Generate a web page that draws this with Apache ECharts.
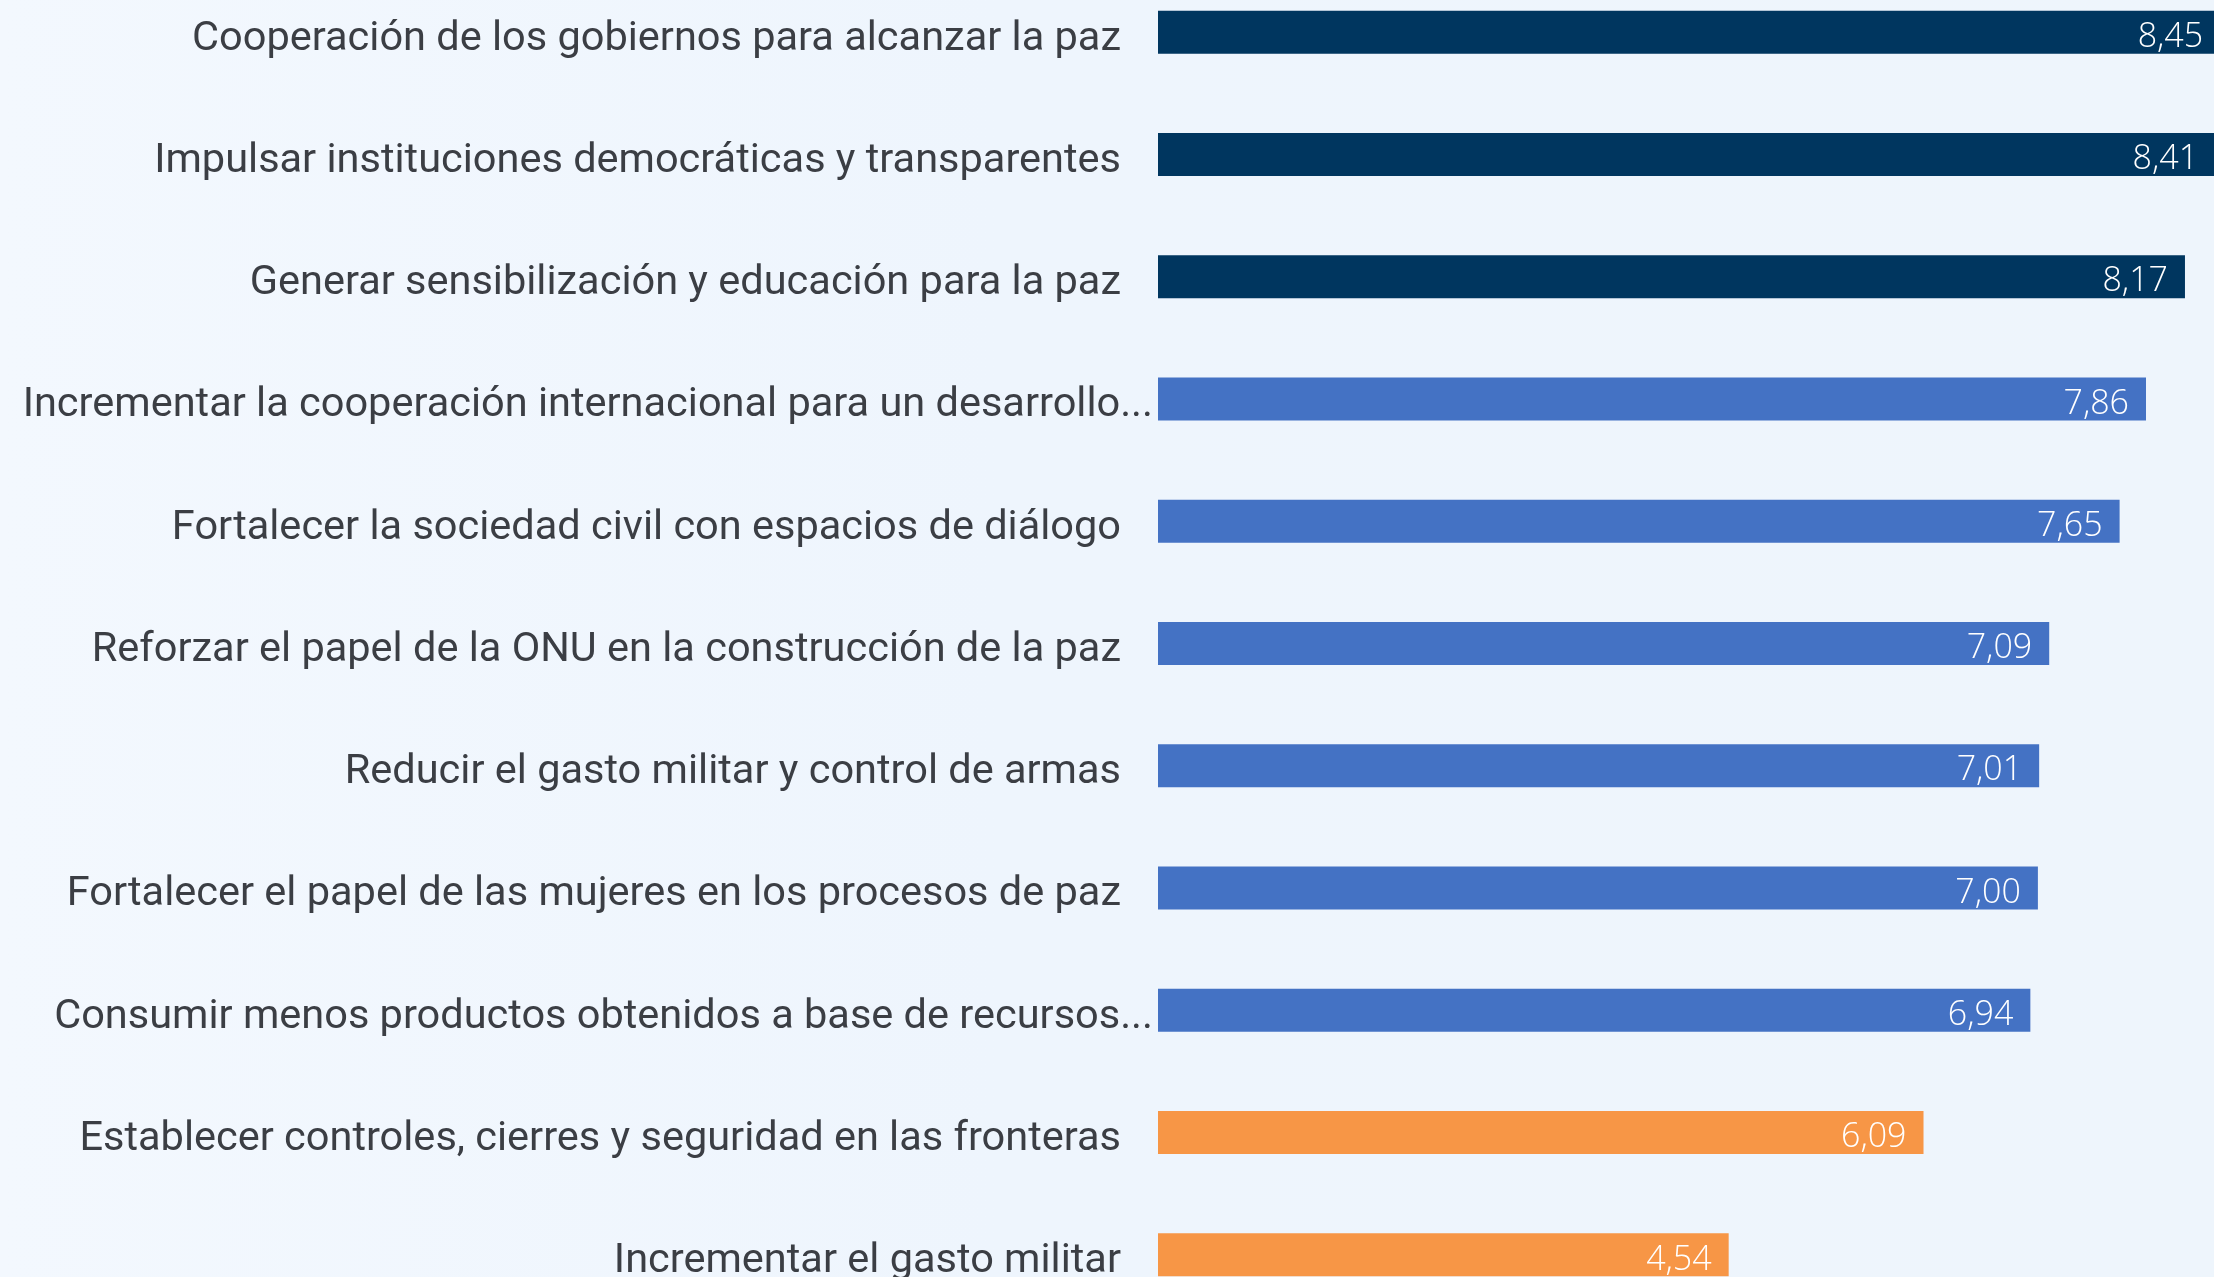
<!DOCTYPE html>
<html>
<head>
<meta charset="utf-8">
<script src="https://cdn.jsdelivr.net/npm/echarts@6/dist/echarts.min.js"></script>
<style>
  html, body { margin: 0; padding: 0; width: 2214px; height: 1277px; overflow: hidden;
    background: linear-gradient(90deg, #f3f8fe 0%, #eef5fd 45%, #eef5fc 100%); }
  #chart { position: absolute; left: 0; top: -29px; width: 2500px; height: 1345px; }
</style>
</head>
<body>
<div id="chart"></div>
<script>
// categorias (de arriba a abajo)
var categories = [
  'Cooperación de los gobiernos para alcanzar la paz',
  'Impulsar instituciones democráticas y transparentes',
  'Generar sensibilización y educación para la paz',
  'Incrementar la cooperación internacional para un desarrollo...',
  'Fortalecer la sociedad civil con espacios de diálogo',
  'Reforzar el papel de la ONU en la construcción de la paz',
  'Reducir el gasto militar y control de armas',
  'Fortalecer el papel de las mujeres en los procesos de paz',
  'Consumir menos productos obtenidos a base de recursos...',
  'Establecer controles, cierres y seguridad en las fronteras',
  'Incrementar el gasto militar'
];
var values = [8.45, 8.41, 8.17, 7.86, 7.65, 7.09, 7.01, 7.00, 6.94, 6.09, 4.54];
// grupo de color de cada barra
var groups = ['alto', 'alto', 'alto', 'medio', 'medio', 'medio', 'medio', 'medio', 'medio', 'bajo', 'bajo'];
var groupColors = { alto: '#00365f', medio: '#4472c4', bajo: '#f79646' };

var labelFont = 'Roboto, sans-serif';

(function () {
  var myChart = echarts.init(document.getElementById('chart'));
  var option = {
    animation: false,
    grid: {
      left: 1158,
      width: 1257,
      top: 0,
      bottom: 0
    },
    xAxis: {
      type: 'value',
      min: 0,
      max: 10,
      show: false
    },
    yAxis: {
      type: 'category',
      inverse: true,
      data: categories,
      axisLine: { show: false },
      axisTick: { show: false },
      axisLabel: {
        margin: 5,
        color: '#3b3e44',
        fontFamily: labelFont,
        fontSize: 41.5,
        // las etiquetas recortadas quedan más pegadas a la barra
        formatter: function (v) {
          return v.slice(-3) === '...' ? '{t|' + v + '}' : '{n|' + v + '}';
        },
        rich: {
          t: { fontSize: 41.5, color: '#3b3e44', fontFamily: labelFont, padding: [14, 0, 0, 0] },
          n: { fontSize: 41.5, color: '#3b3e44', fontFamily: labelFont, padding: [14, 32, 0, 0] }
        }
      }
    },
    series: [
      {
        type: 'bar',
        barWidth: 43,
        clip: false,
        data: values.map(function (v, i) {
          return { value: v, itemStyle: { color: groupColors[groups[i]] } };
        }),
        label: {
          show: true,
          position: 'insideRight',
          distance: 17,
          offset: [0, 5],
          color: '#ffffff',
          fontFamily: 'Open Sans, sans-serif',
          fontWeight: 300,
          fontSize: 34,
          formatter: function (p) {
            return p.value.toFixed(2).replace('.', ',');
          }
        }
      }
    ]
  };
  myChart.setOption(option);
})();
</script>
</body>
</html>
